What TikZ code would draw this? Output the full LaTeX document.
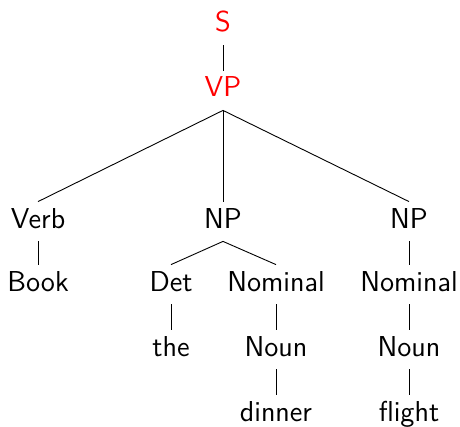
\documentclass[tikz,border=0pt]{standalone}
\usepackage{tikz}

\tikzset{
  cat/.style={anchor=base,font=\sffamily\Large,inner sep=3pt,text height=10pt,text depth=3.5pt},
  topcat/.style={cat,text=red},
  branch/.style={draw=black,line width=0.45pt}
}

\begin{document}
\begin{tikzpicture}[x=0.5pt,y=-0.5pt]
  % Canvas
  \useasboundingbox (0,0) rectangle (460,427);

  % Root and verb phrase
  \node[topcat] (s) at (223,32) {S};
  \node[topcat] (vp) at (223,97) {VP};

  % Children of VP
  \node[cat] (verb) at (38,228) {Verb};
  \node[cat] (np1) at (223,228) {NP};
  \node[cat] (np2) at (409,228) {NP};

  % Next level
  \node[cat] (book) at (38,291) {Book};
  \node[cat] (det) at (171,291) {Det};
  \node[cat] (nom1) at (276,291) {Nominal};
  \node[cat] (nom2) at (409,291) {Nominal};

  \node[cat] (the) at (171,356) {the};
  \node[cat] (noun1) at (276,356) {Noun};
  \node[cat] (noun2) at (409,356) {Noun};

  % Leaves
  \node[cat] (dinner) at (276,421) {dinner};
  \node[cat] (flight) at (409,421) {flight};

  % Branches
  \foreach \p/\c in {s/vp,vp/verb,vp/np1,vp/np2,verb/book,np1/det,np1/nom1,
                     np2/nom2,det/the,nom1/noun1,nom2/noun2,noun1/dinner,noun2/flight}{
    \draw[branch] (\p.south) -- (\c.north);
  }
\end{tikzpicture}
\end{document}
